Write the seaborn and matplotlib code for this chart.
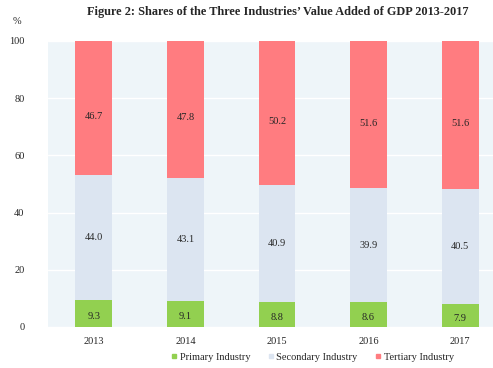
import matplotlib
matplotlib.use("Agg")
import matplotlib.pyplot as plt
import seaborn as sns
import numpy as np
import pandas as pd

years = ["2013", "2014", "2015", "2016", "2017"]
primary = [9.3, 9.1, 8.8, 8.6, 7.9]
secondary = [44.0, 43.1, 40.9, 39.9, 40.5]
tertiary = [46.7, 47.8, 50.2, 51.6, 51.6]

c_prim = "#92D050"
c_sec = "#DCE5F1"
c_ter = "#FF7C80"

sns.set_style("white")
plt.rcParams["font.family"] = ["Liberation Serif", "DejaVu Serif"]

df = pd.DataFrame({"year": years, "primary": primary,
                   "secondary": secondary, "tertiary": tertiary})
df["cum2"] = df["primary"] + df["secondary"]
df["cum3"] = df["cum2"] + df["tertiary"]

fig = plt.figure(figsize=(4.93, 3.68), dpi=100)
ax = fig.add_axes([48/493, 1-327/368, 458/493, 286/368])
ax.set_facecolor("#EEF5F9")

for col, c in [("cum3", c_ter), ("cum2", c_sec), ("primary", c_prim)]:
    sns.barplot(data=df, x="year", y=col, color=c, width=0.40,
                saturation=1, ax=ax, zorder=3, linewidth=0, edgecolor="none")

for i in range(len(years)):
    ax.text(i, primary[i]/2 - 1, f"{primary[i]:.1f}", ha="center", va="center",
            fontsize=7.5, zorder=4)
    ax.text(i, df["cum2"][i] - secondary[i]/2, f"{secondary[i]:.1f}", ha="center",
            va="center", fontsize=7.5, zorder=4)
    ax.text(i, df["cum2"][i] + tertiary[i]/2 - 3, f"{tertiary[i]:.1f}", ha="center",
            va="center", fontsize=7.5, zorder=4)

ax.set_ylim(0, 100)
ax.set_xlim(-0.5, 4.5)
ax.set_yticks([0, 20, 40, 60, 80, 100])
ax.set_yticklabels(["0", "20", "40", "60", "80", "100"])
ax.yaxis.grid(True, color="white", linewidth=1, zorder=1)
ax.set_axisbelow(True)
ax.tick_params(axis="y", length=0, pad=17, labelsize=7.5)
ax.tick_params(axis="x", length=0, pad=7, labelsize=7.5)
ax.set_xlabel("")
ax.set_ylabel("")
for s in ax.spines.values():
    s.set_visible(False)

fig.text(13/493, 1-22/368, "%", fontsize=7.5, ha="left", va="center")
fig.text(278/493, 1-12/368, "Figure 2: Shares of the Three Industries\u2019 Value Added of GDP 2013-2017",
         fontsize=8.8, fontweight="bold", ha="center", va="center")

handles = [plt.Line2D([], [], marker="s", linestyle="", color=c, markersize=3.5)
           for c in [c_prim, c_sec, c_ter]]
fig.legend(handles, ["Primary Industry", "Secondary Industry", "Tertiary Industry"],
           loc="center", bbox_to_anchor=(312/493, 1-357/368), ncol=3, frameon=False,
           fontsize=7.5, handletextpad=0.1, columnspacing=1.6, handlelength=0.8)

fig.savefig("out.png", dpi=100)
